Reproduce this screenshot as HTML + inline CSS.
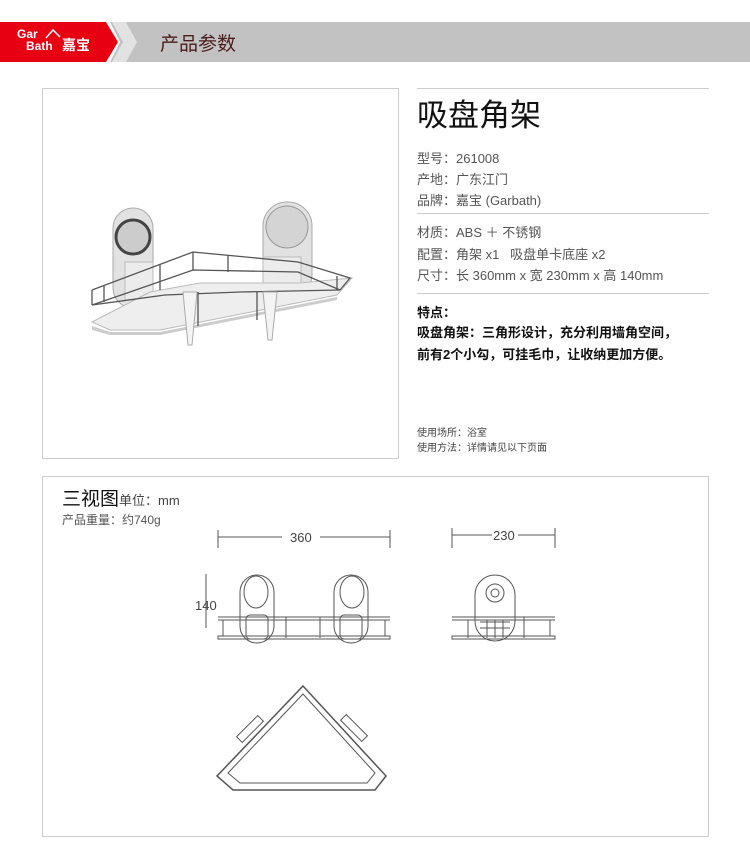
<!DOCTYPE html>
<html><head><meta charset="utf-8"><style>
body{margin:0;width:750px;height:864px;background:#fff;position:relative;overflow:hidden;font-family:"Liberation Sans","Noto Sans CJK SC",sans-serif}
.a{position:absolute;white-space:nowrap}
.t{font-size:13px;color:#555}
.hr{position:absolute;left:417px;width:292px;height:1px;background:#ccc}
</style></head><body>
<svg class="a" style="left:0;top:0" width="750" height="80">
<polygon points="110,22 750,22 750,62 110,62 120,42" fill="#c2c2c2"/>
<polygon points="112,22 126,22 137,42 126,62 112,62 123,42" fill="#e2e2e2"/>
<polygon points="0,22 106,22 118,42 106,62 0,62" fill="#e60012"/>
<text x="17" y="38" font-size="12" font-weight="bold" fill="#fff" font-family="Liberation Sans">Gar</text>
<text x="26" y="50" font-size="12" font-weight="bold" fill="#fff" font-family="Liberation Sans">Bath</text>
<polyline points="46,38 53,30 60,37" stroke="#fff" stroke-width="1.5" fill="none"/>
<text x="62" y="50" font-size="14" font-weight="bold" fill="#fff" font-family="Noto Sans CJK SC">嘉宝</text>
<text x="160" y="50" font-size="19" fill="#4a1c1c" font-family="Noto Sans CJK SC">产品参数</text>
</svg>
<div class="a" style="left:42px;top:88px;width:355px;height:369px;border:1px solid #ccc"></div>
<svg class="a" style="left:0;top:0" width="750" height="470">
<g fill="#e2e2e2" stroke="#aaa">
<rect x="113" y="208" width="40" height="100" rx="20"/>
<rect x="263" y="202" width="49" height="96" rx="24"/>
</g>
<circle cx="133" cy="237" r="17" fill="#ccc" stroke="#444" stroke-width="3"/>
<circle cx="287" cy="227" r="21" fill="#d4d4d4" stroke="#999"/>
<rect x="125" y="262" width="28" height="38" fill="#ececec" stroke="#bbb"/>
<rect x="263" y="257" width="38" height="42" fill="#ececec" stroke="#bbb"/>
<polygon points="92,322 150,292 200,283 300,283 352,278 337,295 160,330 110,330" fill="#eee" stroke="#bbb"/>
<polygon points="92,326 110,332 160,332 337,297 337,300 160,335 110,335 92,330" fill="#ccc"/>
<g fill="none" stroke="#555" stroke-width="1.3">
<polyline points="92,290 193,252 298,262 350,278 340,290"/>
<polyline points="92,305 130,292 193,270 298,272 340,290"/>
<polyline points="92,305 165,295 240,292 340,290"/>
<line x1="92" y1="290" x2="92" y2="305"/><line x1="104" y1="286" x2="104" y2="302"/>
<line x1="160" y1="264" x2="160" y2="290"/><line x1="193" y1="252" x2="193" y2="270"/>
<line x1="228" y1="256" x2="228" y2="272"/><line x1="337" y1="276" x2="337" y2="290"/>
<line x1="198" y1="292" x2="198" y2="326"/><line x1="257" y1="292" x2="257" y2="320"/>
</g>
<path d="M183 292 L197 292 L192 345 L188 345 Z M263 292 L277 292 L272 340 L268 340 Z" fill="#f4f4f4" stroke="#aaa"/>
</svg>
<div class="hr" style="top:88px"></div>
<div class="a" style="left:417px;top:90px;font-size:31px;color:#111">吸盘角架</div>
<div class="a t" style="left:417px;top:148px">型号：261008</div>
<div class="a t" style="left:417px;top:169px">产地：广东江门</div>
<div class="a t" style="left:417px;top:190px">品牌：嘉宝 (Garbath)</div>
<div class="hr" style="top:213px"></div>
<div class="a t" style="left:417px;top:222px">材质：ABS ＋ 不锈钢</div>
<div class="a t" style="left:417px;top:244px">配置：角架 x1&nbsp;&nbsp; 吸盘单卡底座 x2</div>
<div class="a t" style="left:417px;top:265px">尺寸：长 360mm x 宽 230mm x 高 140mm</div>
<div class="hr" style="top:293px"></div>
<div class="a" style="left:417px;top:302px;font-size:13px;font-weight:bold;color:#111">特点：</div>
<div class="a" style="left:417px;top:322px;font-size:13px;font-weight:bold;color:#111">吸盘角架：三角形设计，充分利用墙角空间，</div>
<div class="a" style="left:417px;top:344px;font-size:13px;font-weight:bold;color:#111">前有2个小勾，可挂毛巾，让收纳更加方便。</div>
<div class="a" style="left:417px;top:424px;font-size:10px;color:#444">使用场所：浴室</div>
<div class="a" style="left:417px;top:439px;font-size:10px;color:#444">使用方法：详情请见以下页面</div>
<div class="a" style="left:42px;top:476px;width:665px;height:359px;border:1px solid #ccc"></div>
<div class="a" style="left:62px;top:484px;font-size:19px;color:#111">三视图<span style="font-size:13px;color:#444">单位：mm</span></div>
<div class="a" style="left:62px;top:511px;font-size:12px;color:#555">产品重量：约740g</div>
<svg class="a" style="left:0;top:0" width="750" height="864">
<g stroke="#555" fill="none" stroke-width="1">
<line x1="218" y1="537" x2="282" y2="537"/><line x1="320" y1="537" x2="390" y2="537"/>
<line x1="218" y1="530" x2="218" y2="548"/><line x1="390" y1="530" x2="390" y2="548"/>
<line x1="452" y1="535" x2="492" y2="535"/><line x1="518" y1="535" x2="555" y2="535"/>
<line x1="452" y1="528" x2="452" y2="548"/><line x1="555" y1="528" x2="555" y2="548"/>
<line x1="206" y1="574" x2="206" y2="628"/>
<rect x="240" y="575" width="34" height="68" rx="17"/><ellipse cx="256" cy="592" rx="12" ry="16"/>
<rect x="334" y="575" width="34" height="68" rx="17"/><ellipse cx="352" cy="592" rx="12" ry="16"/>
<rect x="246" y="615" width="22" height="24" rx="4"/><rect x="340" y="615" width="22" height="24" rx="4"/>
<line x1="218" y1="617" x2="390" y2="617"/><line x1="218" y1="620" x2="390" y2="620"/>
<rect x="218" y="636" width="172" height="3"/>
<line x1="223" y1="620" x2="223" y2="636"/><line x1="286" y1="617" x2="286" y2="638"/><line x1="320" y1="617" x2="320" y2="638"/><line x1="385" y1="620" x2="385" y2="636"/>
<rect x="475" y="575" width="40" height="66" rx="20"/><circle cx="495" cy="593" r="9"/><circle cx="495" cy="593" r="4"/>
<line x1="452" y1="617" x2="555" y2="617"/><line x1="452" y1="620" x2="555" y2="620"/>
<rect x="452" y="636" width="103" height="3"/>
<line x1="468" y1="620" x2="468" y2="638"/><line x1="524" y1="617" x2="524" y2="638"/><line x1="550" y1="620" x2="550" y2="636"/>
<path d="M480 622 h30 M480 628 h30 M487 620 v18 M495 620 v18 M503 620 v18"/>
<polygon points="303,686 386,776 375,790 233,790 217,776" stroke-width="1.5"/>
<polygon points="303,694 375,773 367,783 240,783 228,773"/>
<rect x="246" y="714" width="8" height="30" transform="rotate(45 250 729)"/>
<rect x="350" y="713" width="8" height="30" transform="rotate(-45 354 728)"/>
</g>
<g font-family="Liberation Sans" font-size="13" fill="#444">
<text x="290" y="542">360</text><text x="493" y="540">230</text><text x="195" y="610">140</text>
</g>
</svg>
</body></html>
